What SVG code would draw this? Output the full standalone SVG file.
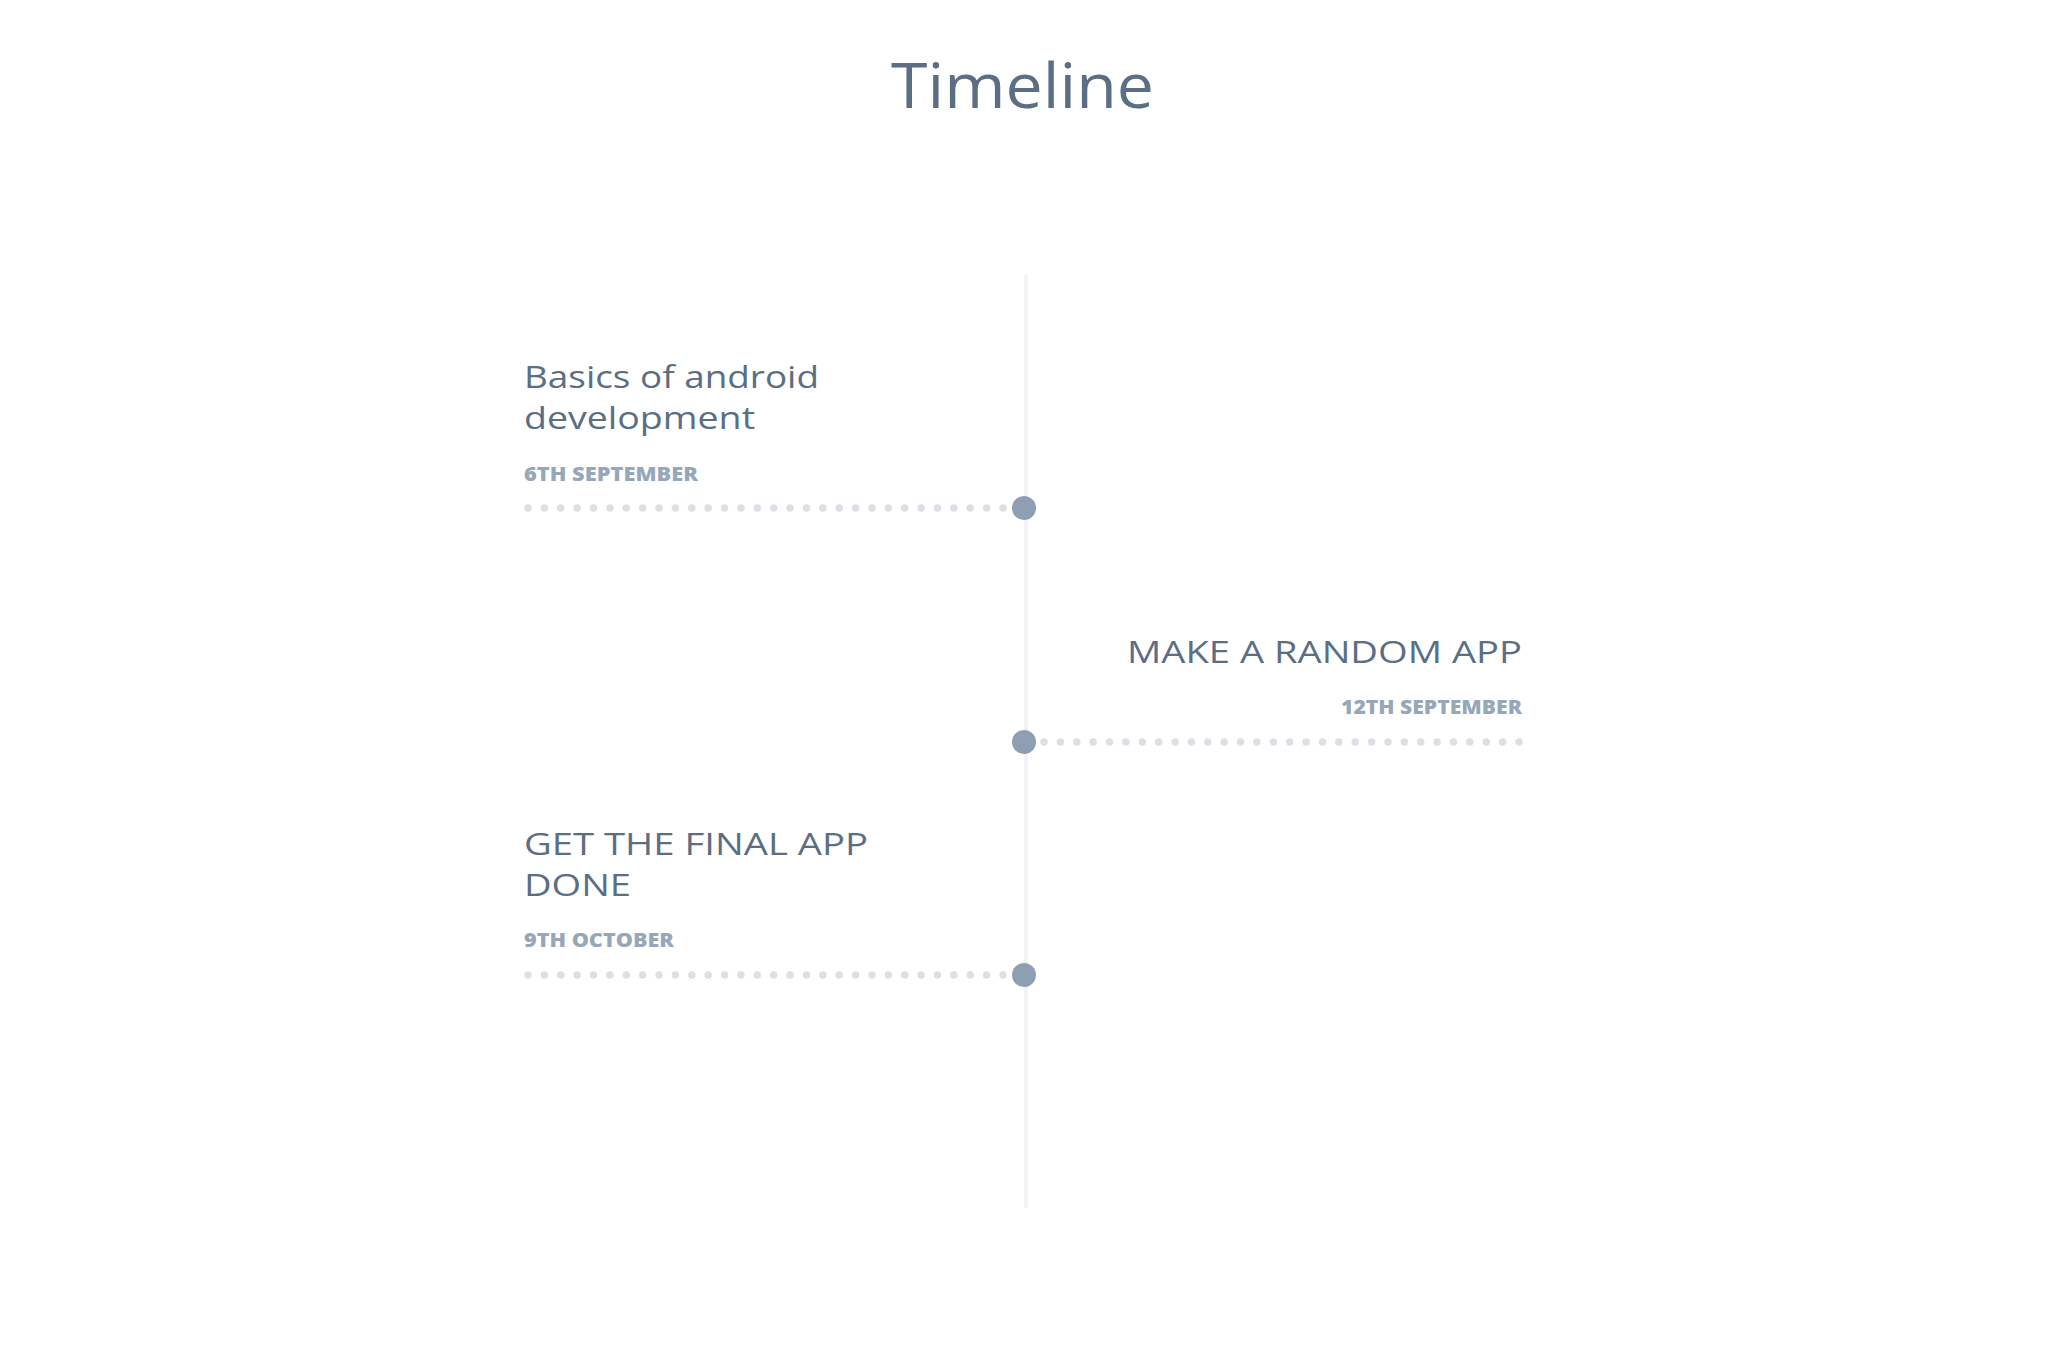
<svg xmlns="http://www.w3.org/2000/svg" width="2048" height="1364" viewBox="0 0 2048 1364">
<style>
  .title{font-family:"Open Sans","Liberation Sans",sans-serif;font-size:63px;fill:#5b6e84;}
  .head{font-family:"Open Sans","Liberation Sans",sans-serif;font-size:31px;font-weight:500;fill:#5b6e84;}
  .date{font-family:"Open Sans","Liberation Sans",sans-serif;font-size:19.5px;font-weight:800;fill:#97a7ba;}
  .dots{stroke:#dbe0e7;stroke-width:7.5;stroke-linecap:round;stroke-dasharray:0 16.379;fill:none;}
  .axis{stroke:#f2f3f5;stroke-width:4;fill:none;}
  .knob{fill:#8e9fb3;}
</style>
<rect width="2048" height="1364" fill="#ffffff"/>
<text id="title" class="title" x="891" y="108" textLength="263" lengthAdjust="spacingAndGlyphs">Timeline</text>
<g id="connectors">
  <line class="axis" x1="1026" y1="275" x2="1026" y2="1208"/>
  <line class="dots" x1="528" y1="508" x2="1004" y2="508"/>
  <line class="dots" x1="1044" y1="742" x2="1520" y2="742"/>
  <line class="dots" x1="528" y1="975" x2="1004" y2="975"/>
</g>
<g id="item1">
  <text class="head" x="524" y="388" textLength="295" lengthAdjust="spacingAndGlyphs">Basics of android</text>
  <text class="head" x="524" y="429" textLength="231" lengthAdjust="spacingAndGlyphs">development</text>
  <text class="date" x="524" y="481" textLength="174" lengthAdjust="spacingAndGlyphs">6TH SEPTEMBER</text>
  <circle class="knob" cx="1024" cy="508" r="12"/>
</g>
<g id="item2">
  <text class="head" x="1127" y="663" textLength="395" lengthAdjust="spacingAndGlyphs">MAKE A RANDOM APP</text>
  <text class="date" x="1341" y="714" textLength="181" lengthAdjust="spacingAndGlyphs">12TH SEPTEMBER</text>
  <circle class="knob" cx="1024" cy="742" r="12"/>
</g>
<g id="item3">
  <text class="head" x="524" y="855" textLength="344" lengthAdjust="spacingAndGlyphs">GET THE FINAL APP</text>
  <text class="head" x="524" y="896" textLength="107" lengthAdjust="spacingAndGlyphs">DONE</text>
  <text class="date" x="524" y="947" textLength="150" lengthAdjust="spacingAndGlyphs">9TH OCTOBER</text>
  <circle class="knob" cx="1024" cy="975" r="12"/>
</g>
</svg>
